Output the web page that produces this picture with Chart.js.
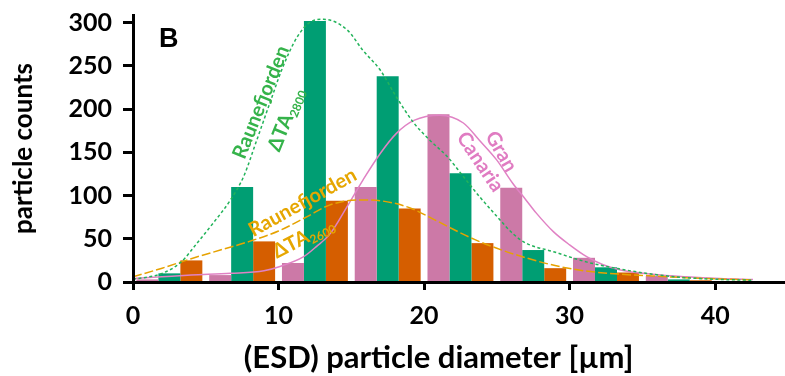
<!DOCTYPE html>
<html>
<head>
<meta charset="utf-8">
<script src="https://cdn.jsdelivr.net/npm/chart.js@4.4.1/dist/chart.umd.min.js"></script>
<style>
  html, body { margin: 0; padding: 0; background: #fff; }
</style>
</head>
<body>
<canvas id="sizeChart" width="785" height="376"></canvas>
<script>
// binned counts, 5 µm bins (x = bin centre)
let binCenters = [2.5, 7.5, 12.5, 17.5, 22.5, 27.5, 32.5, 37.5]
let granCanaria = [3, 8, 22, 110, 194, 109, 28, 7]
let raune2800 = [10, 110, 302, 238, 126, 37, 17, 3]
let raune2600 = [25, 47, 94, 85, 45, 16, 11, 2]

// fitted curves
let fit2800X = [0, 2, 3.3, 4.4, 5.5, 6.7, 7.6, 8.5, 9.4, 10.3, 11.3, 12.2, 13.1, 14.7, 15.8, 17, 18.1, 19.3, 20.4, 21.6, 22.7, 23.8, 25, 26.1, 27, 28.9, 31.2, 33.5, 35.7, 38, 40.3, 42.6]
let fit2800Y = [3, 10, 23, 45, 68, 95, 122, 164, 207, 249, 284, 301, 304, 292, 268, 245, 214, 184, 164, 145, 122, 99, 76, 56, 45, 35, 23, 15, 9, 5, 3, 2]
let fit2600X = [0, 2, 4, 6, 8, 10, 12, 13.5, 15.5, 17, 19, 20.5, 22, 23.5, 25, 27, 29, 31, 33.5, 35.7, 38, 40.3, 42.6]
let fit2600Y = [6, 16, 27, 37, 47, 59, 76, 89, 95, 94, 86, 74, 61, 49, 39, 28, 19, 13, 9, 7, 5, 3.5, 2.5]
let fitGranX = [0, 2, 4, 6.7, 9, 10.1, 11.7, 12.6, 13.55, 14.7, 15.8, 17, 18.1, 19.3, 21.1, 22.7, 23.8, 25, 26.1, 27, 27.7, 28.9, 30, 31.2, 32.3, 33.5, 35.7, 38, 40.3, 42.6]
let fitGranY = [4, 6, 8, 10, 13, 18, 29, 41, 56, 87, 118, 149, 172, 187, 193, 184, 164, 141, 114, 95, 80, 58, 43, 29, 20, 14, 9, 6, 4, 3]

let yTicks = [0, 50, 100, 150, 200, 250, 300]
let xTicks = [0, 10, 20, 30, 40]

// in-plot labels, anchored in data units
let notes = [
  { text: 'B', x: 2.45, y: 281, rot: 0, color: '#000000', size: 27, family: 'Liberation Sans' },
  { text: 'Raunefjorden', x: 8.8, y: 208, rot: -68, color: '#35b34a', size: 20 },
  { text: 'ΔTA', sub: '2800', x: 10.5, y: 188, rot: -68, color: '#35b34a', size: 20 },
  { text: 'Raunefjorden', x: 11.65, y: 92, rot: -29, color: '#e6a600', size: 20 },
  { text: 'ΔTA', sub: '2600', x: 11.7, y: 51, rot: -27, color: '#e6a600', size: 20 },
  { text: 'Gran', x: 25.3, y: 151, rot: 60, color: '#e07cc2', size: 20 },
  { text: 'Canaria', x: 23.85, y: 139, rot: 56, color: '#e07cc2', size: 20 }
]
let xTitle = { text: '(ESD) particle diameter [µm]', x: 21, py: 358 }

let pts = (xs, ys) => xs.map((x, i) => ({ x: x, y: ys[i] }))

Chart.defaults.font.family = 'Lato'
Chart.defaults.color = '#000'

let notesPlugin = {
  id: 'notes',
  afterDatasetsDraw(chart) {
    let ctx = chart.ctx
    let sx = chart.scales.x, sy = chart.scales.y
    notes.forEach(n => {
      let fam = n.family || 'Lato'
      ctx.save()
      ctx.translate(sx.getPixelForValue(n.x), sy.getPixelForValue(n.y))
      ctx.rotate(n.rot * Math.PI / 180)
      ctx.fillStyle = n.color
      ctx.textBaseline = 'middle'
      ctx.font = 'bold ' + n.size + 'px ' + fam
      let w = ctx.measureText(n.text).width
      let subSize = Math.round(n.size * 0.62)
      let ws = 0
      if (n.sub) {
        ctx.font = 'bold ' + subSize + 'px ' + fam
        ws = ctx.measureText(n.sub).width
      }
      let start = -(w + ws) / 2
      ctx.font = 'bold ' + n.size + 'px ' + fam
      ctx.textAlign = 'left'
      ctx.fillText(n.text, start, 0)
      if (n.sub) {
        ctx.font = 'bold ' + subSize + 'px ' + fam
        ctx.fillText(n.sub, start + w, n.size * 0.3)
      }
      ctx.restore()
    })
    // x axis title
    ctx.save()
    ctx.fillStyle = '#000'
    ctx.font = 'bold 31px Lato'
    ctx.textAlign = 'center'
    ctx.textBaseline = 'middle'
    ctx.fillText(xTitle.text, sx.getPixelForValue(xTitle.x), xTitle.py)
    ctx.restore()
  }
}

new Chart(document.getElementById('sizeChart').getContext('2d'), {
  type: 'bar',
  data: {
    datasets: [
      { type: 'line', label: 'Raunefjorden ΔTA2800 fit', data: pts(fit2800X, fit2800Y), borderColor: '#22b35a', borderWidth: 1.5, borderDash: [3, 2.5], pointRadius: 0, cubicInterpolationMode: 'monotone', order: 0 },
      { type: 'line', label: 'Raunefjorden ΔTA2600 fit', data: pts(fit2600X, fit2600Y), borderColor: '#e6a200', borderWidth: 1.5, borderDash: [9, 3], pointRadius: 0, cubicInterpolationMode: 'monotone', order: 0 },
      { type: 'line', label: 'Gran Canaria fit', data: pts(fitGranX, fitGranY), borderColor: '#e082c4', borderWidth: 1.5, pointRadius: 0, cubicInterpolationMode: 'monotone', order: 0 },
      { label: 'Gran Canaria', data: pts(binCenters, granCanaria), backgroundColor: '#CC79A7', order: 1 },
      { label: 'Raunefjorden ΔTA2800', data: pts(binCenters, raune2800), backgroundColor: '#009E73', order: 1 },
      { label: 'Raunefjorden ΔTA2600', data: pts(binCenters, raune2600), backgroundColor: '#D55E00', order: 1 }
    ]
  },
  options: {
    responsive: false,
    animation: false,
    devicePixelRatio: 1,
    layout: { padding: { top: 15, left: 0, right: 0, bottom: 0 } },
    datasets: { bar: { categoryPercentage: 0.906, barPercentage: 1, borderWidth: 0 } },
    plugins: { legend: { display: false }, tooltip: { enabled: false } },
    scales: {
      x: {
        type: 'linear', min: 0, max: 44.8, offset: false,
        afterBuildTicks: s => { s.ticks = xTicks.map(v => ({ value: v })) },
        afterFit: s => { s.height = 94; s.paddingLeft = 0; s.paddingRight = 0 },
        ticks: { font: { size: 25, weight: 'bold' }, color: '#000', padding: 11 },
        grid: { offset: false, drawOnChartArea: false, drawTicks: true, tickLength: 8, tickWidth: 3, tickColor: '#000', color: '#000' },
        border: { display: true, color: '#000', width: 3, z: 1 }
      },
      y: {
        type: 'linear', min: 0, max: 309,
        afterBuildTicks: s => { s.ticks = yTicks.map(v => ({ value: v })) },
        afterFit: s => { s.width = 133; s.paddingTop = 0; s.paddingBottom = 0 },
        ticks: { font: { size: 25, weight: 'bold' }, color: '#000', padding: 11 },
        grid: { drawOnChartArea: false, drawTicks: true, tickLength: 10, tickWidth: 3, tickColor: '#000', color: '#000' },
        border: { display: true, color: '#000', width: 3, z: 1 },
        title: { display: true, text: 'particle counts', font: { size: 26, weight: 'bold' }, color: '#000', padding: { top: 8, bottom: 0 } }
      }
    }
  },
  plugins: [notesPlugin]
})
</script>
</body>
</html>
